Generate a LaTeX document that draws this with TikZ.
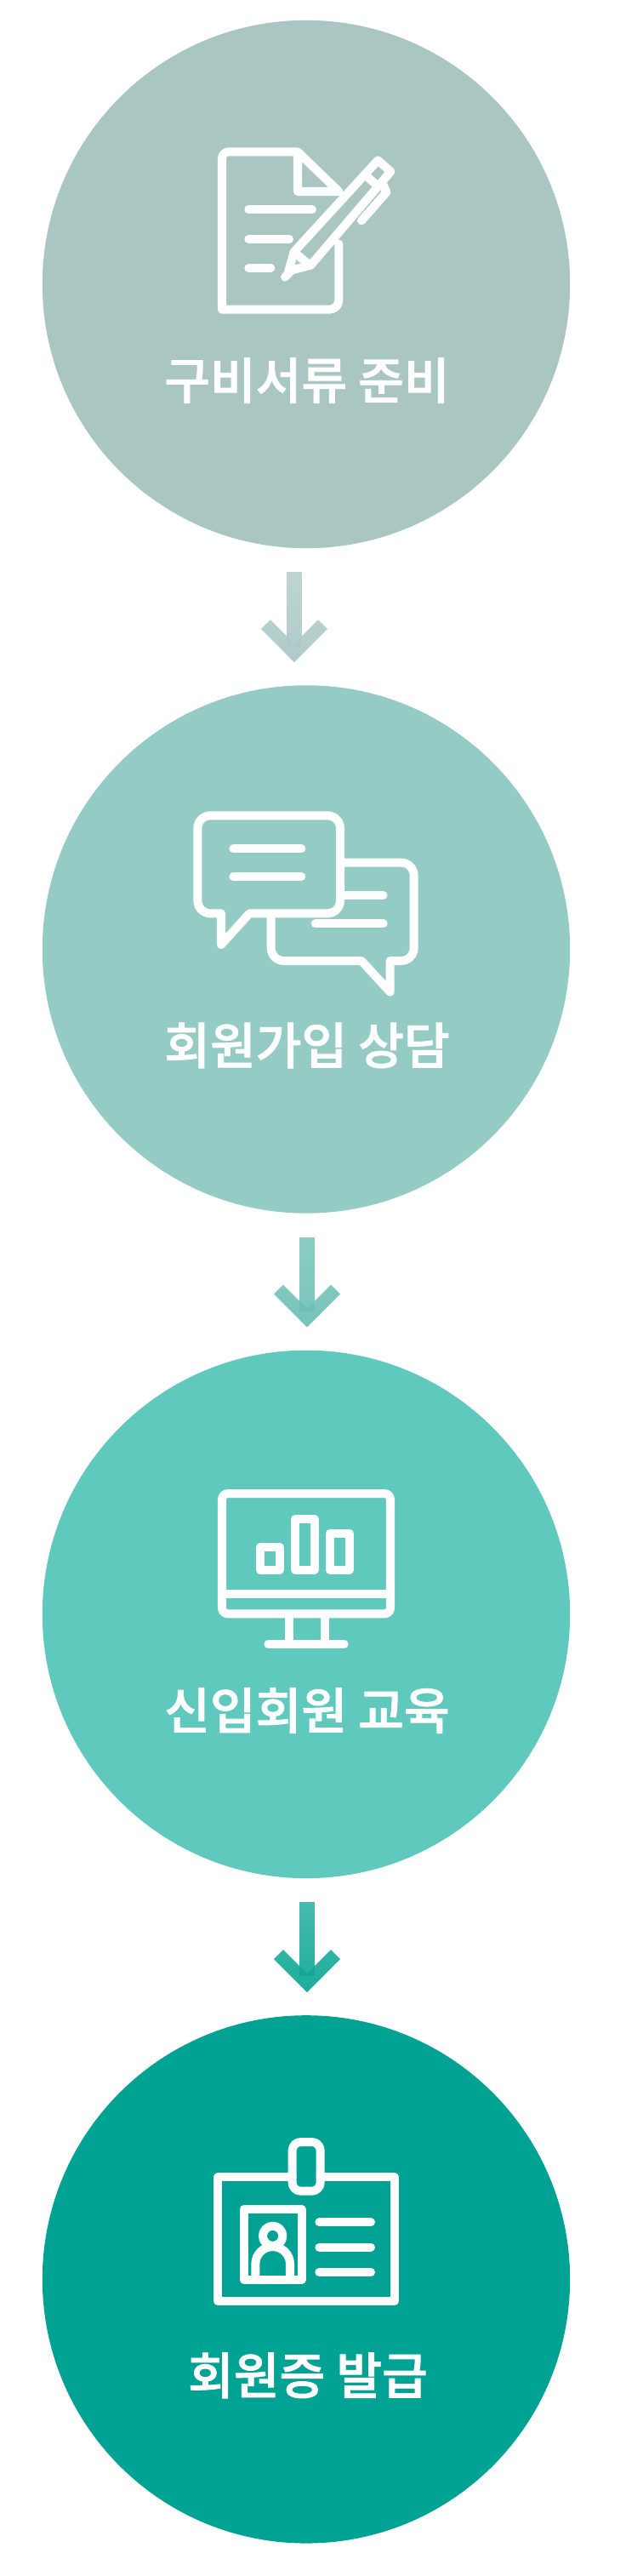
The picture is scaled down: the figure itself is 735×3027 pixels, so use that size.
\documentclass[tikz,border=0pt]{standalone}
\usepackage{fontspec}
\usepackage{tikz}
\usetikzlibrary{calc,positioning,arrows.meta,fadings}
\newfontfamily\krfont[FakeBold=1.6]{Noto Sans CJK KR Medium}

\tikzfading[name=arrowfade, top color=transparent!28, bottom color=transparent!0]

\tikzset{
    stepcircle/.style={circle, minimum size=6.2cm, inner sep=0pt, outer sep=0pt},
    steptext/.style={text=white, inner sep=0pt, font=\krfont\fontsize{16.6}{20}\selectfont},
    iconline/.style={draw=white, line width=0.1cm, line join=round, line cap=round},
    flowarrow/.style={line width=0.175cm, shorten <=0.28cm, shorten >=0.27cm, path fading=arrowfade, fading transform={xscale=4},
        -{Straight Barb[length=0.335cm, width=0.67cm, line width=0.155cm]}},
}

\begin{document}
\begin{tikzpicture}[x=0.01cm, y=-0.01cm]
                \def\dy{1.61cm}
                \useasboundingbox (0,0) rectangle (735,3027);
                \fill [white] (0,0) rectangle (735,3027);

                \node (prep) [stepcircle, fill={rgb,255:red,169;green,198;blue,195}] at (360,334) {};

                \node (consult) [stepcircle, below=\dy of prep, fill={rgb,255:red,148;green,203;blue,197}] {};

                \node (training) [stepcircle, below=\dy of consult, fill={rgb,255:red,95;green,201;blue,190}] {};

                \node (issue) [stepcircle, below=\dy of training, fill={rgb,255:red,0;green,163;blue,147}] {};

                \node (preptext) [steptext] at ($(prep)+(1,113)$) {구비서류 준비};
                \node (consulttext) [steptext] at ($(consult)+(1,113)$) {회원가입 상담};
                \node (trainingtext) [steptext] at ($(training)+(1,113)$) {신입회원 교육};
                \node (issuetext) [steptext] at ($(issue)+(2,113)$) {회원증 발급};

                \draw [flowarrow, draw={rgb,255:red,171;green,201;blue,199}] ([xshift=-0.14cm]prep.south) to ([xshift=-0.14cm]consult.north);
                \draw [flowarrow, draw={rgb,255:red,109;green,192;blue,182}] ([xshift=0.01cm]consult.south) to ([xshift=0.01cm]training.north);
                \draw [flowarrow, draw={rgb,255:red,16;green,168;blue,151}] ([xshift=0.01cm]training.south) to ([xshift=0.01cm]issue.north);

                \begin{scope}[shift={(180,140)}, scale=1/3]
                    \draw [iconline] (655,440) [rounded corners=0.11cm] -- (655,671) [rounded corners=0pt] -- (243,671) [rounded corners=0.08cm] -- (243,115) [rounded corners=0pt] -- (510,115) -- (655,255) -- (510,255) -- (510,115);
                    \draw [iconline] (337,319) -- (561,319);
                    \draw [iconline] (337,423) -- (480,423);
                    \draw [iconline] (337,525) -- (415,525);
                    \draw [iconline] (497,468) -- (793,145) -- (838,185) -- (556,515);
                    \draw [iconline] (747,195) -- (791,235);
                    \draw [iconline] (503,473) -- (552,515);
                    \draw [iconline] (497,468) -- (478,535) -- (556,515);
                    \draw [iconline] (482,540) -- (465,557);
                    \draw [iconline] (812,232) -- (823,258) -- (735,358);
                \end{scope}

                \begin{scope}[shift={(180,920)}, scale=1/3]
                    \draw [iconline] (240,460) [rounded corners=0.15cm] -- (157,460) -- (157,115) -- (660,115) -- (660,460) [rounded corners=0pt] -- (340,460) -- (240,570) -- cycle;
                    \draw [iconline] (283,232) -- (523,232);
                    \draw [iconline] (283,331) -- (523,331);
                    \draw [iconline] (676,281) [rounded corners=0.15cm] -- (920,281) -- (920,627) [rounded corners=0pt] -- (836,627) -- (836,737) -- (735,627) [rounded corners=0.15cm] -- (416,627) -- (416,476);
                    \draw [iconline] (676,397) -- (812,397);
                    \draw [iconline] (572,496) -- (812,496);
                \end{scope}

                \begin{scope}[shift={(180,1740)}, scale=1/3]
                    \draw [iconline, rounded corners=0.07cm] (243,45) rectangle (837,469);
                    \draw [iconline] (243,398) -- (837,398);
                    \draw [iconline] (480,469) -- (480,575);
                    \draw [iconline] (605,469) -- (605,575);
                    \draw [iconline] (406,575) -- (674,575);
                    \draw [iconline] (378,233) rectangle (446,314);
                    \draw [iconline] (501,135) rectangle (569,314);
                    \draw [iconline] (623,185) rectangle (692,314);
                \end{scope}

                \begin{scope}[shift={(180,2540)}, scale=1/3]
                    \draw [iconline] (491,55) -- (228,55) -- (228,492) -- (852,492) -- (852,55) -- (590,55);
                    \draw [iconline, rounded corners=0.1cm] (491,-69) rectangle (590,104);
                    \draw [iconline] (320,168) rectangle (524,417);
                    \draw [iconline] (422,262) circle [radius=35];
                    \draw [iconline] (361,417) -- (361,361) arc [start angle=180, end angle=360, radius=61] -- (483,417);
                    \draw [iconline] (586,214) -- (768,214);
                    \draw [iconline] (586,302) -- (768,302);
                    \draw [iconline] (586,390) -- (768,390);
                \end{scope}
            \end{tikzpicture}
\end{document}
